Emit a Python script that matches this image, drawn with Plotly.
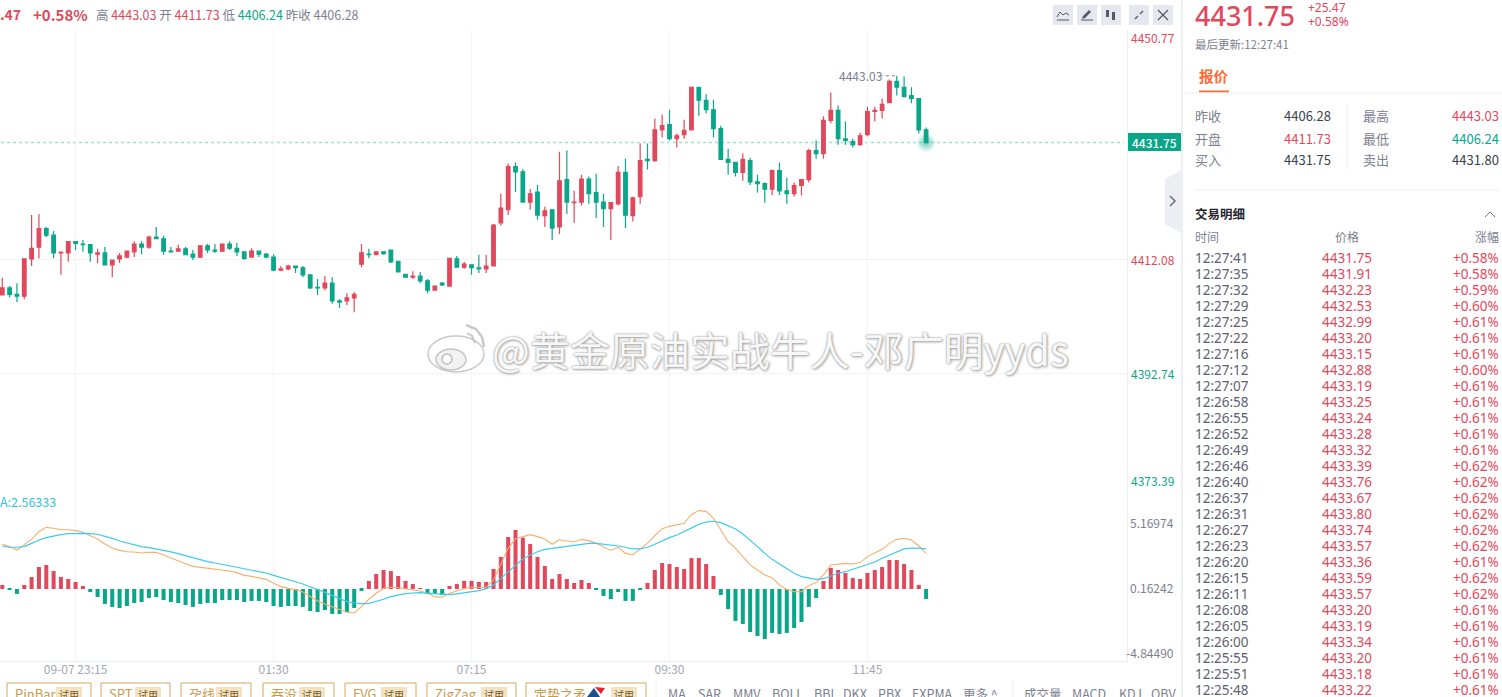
import plotly.graph_objects as go
from plotly.subplots import make_subplots

RED = '#e0485c'
GREEN = '#0aa68a'
GREY = '#7d8090'
DARK = '#3c3f4a'
FONT = 'Noto Sans CJK SC'
W, H = 1502, 697

# 5 minute candles
opens = [4406.0,4407.2,4406.1,4405.8,4412.1,4414.1,4417.2,4416.1,4413.1,4413.1,4415.0,4414.6,4414.5,4412.9,4413.1,4411.1,4412.1,4412.4,4413.3,4414.6,
         4414.1,4415.8,4415.5,4413.4,4413.4,4413.8,4412.9,4412.4,4414.3,4413.6,4413.4,4414.6,4413.9,4413.3,4412.4,4413.4,4412.9,4412.4,4410.2,4410.4,
         4410.9,4410.6,4409.4,4407.3,4407.2,4408.0,4405.0,4405.0,4405.5,4411.2,4412.9,4412.8,4413.3,4413.6,4411.7,4409.5,4409.0,4409.2,4408.4,4406.8,
         4408.0,4407.5,4412.1,4410.7,4411.1,4410.6,4410.4,4410.9,4418.2,4420.4,4427.7,4426.8,4421.7,4423.4,4419.4,4420.4,4417.5,4425.5,4421.6,4421.7,
         4425.6,4423.3,4421.7,4420.6,4421.4,4426.7,4419.4,4422.6,4428.9,4428.7,4433.9,4434.8,4432.4,4433.1,4433.9,4441.1,4438.9,4437.3,4434.1,4428.9,
         4428.4,4426.7,4428.7,4425.1,4424.8,4423.9,4427.0,4423.6,4423.1,4424.5,4425.5,4430.4,4429.9,4435.5,4437.2,4432.4,4431.9,4431.4,4433.1,4437.0,
         4437.2,4438.5,4442.1,4441.1,4439.7,4439.2,4433.9]
highs = [4408.9,4407.5,4408.0,4412.2,4419.5,4419.7,4417.5,4416.8,4413.4,4415.0,4415.1,4415.3,4414.6,4413.8,4414.1,4411.9,4413.1,4413.4,4415.1,4415.1,
         4416.0,4417.5,4416.0,4414.1,4414.5,4414.1,4413.6,4414.3,4414.6,4414.6,4414.6,4415.1,4414.8,4413.3,4413.9,4413.4,4413.1,4412.9,4410.9,4411.1,
         4410.9,4410.9,4409.4,4408.7,4409.2,4409.0,4405.3,4406.3,4406.5,4414.6,4413.8,4413.4,4413.3,4413.6,4411.7,4409.5,4410.0,4409.9,4408.7,4407.5,
         4408.2,4412.2,4412.6,4411.6,4411.1,4412.8,4412.8,4418.0,4423.1,4428.2,4428.4,4427.3,4423.9,4424.6,4420.9,4420.4,4430.2,4430.4,4423.6,4426.3,
         4426.0,4426.5,4423.1,4421.6,4427.8,4429.0,4422.6,4431.6,4431.6,4435.8,4436.5,4437.3,4433.3,4435.6,4441.1,4441.1,4439.9,4439.0,4434.6,4430.7,
         4428.4,4429.9,4429.2,4426.3,4425.0,4427.2,4428.4,4425.8,4425.0,4425.6,4430.7,4432.1,4436.2,4440.2,4438.0,4435.3,4432.4,4433.4,4437.8,4437.8,
         4439.2,4442.4,4443.03,4442.9,4441.1,4439.2,4434.3]
lows = [4406.0,4405.6,4404.8,4405.3,4410.9,4412.2,4415.8,4412.2,4409.4,4411.6,4413.6,4413.3,4411.6,4411.4,4411.1,4409.0,4411.4,4412.2,4412.4,4412.9,
        4413.8,4415.5,4412.8,4413.3,4413.3,4412.8,4411.9,4412.2,4413.1,4413.1,4413.3,4413.6,4412.6,4411.9,4412.4,4412.4,4412.2,4410.0,4410.0,4410.2,
        4409.7,4409.0,4407.0,4406.0,4406.8,4404.5,4403.8,4404.3,4403.1,4410.7,4412.2,4412.8,4412.8,4411.4,4409.9,4409.0,4408.7,4408.0,4406.3,4406.8,
        4407.5,4407.5,4410.6,4410.4,4409.4,4409.7,4409.7,4410.9,4417.7,4419.5,4423.4,4421.6,4420.4,4418.7,4417.5,4415.3,4416.3,4419.7,4418.2,4421.1,
        4421.4,4419.0,4417.5,4415.3,4421.1,4417.3,4418.4,4421.4,4427.2,4428.5,4432.6,4432.1,4430.9,4432.4,4433.8,4436.3,4436.7,4432.6,4428.9,4426.3,
        4426.0,4425.3,4424.6,4423.3,4421.6,4422.9,4422.9,4421.4,4422.6,4422.8,4425.0,4429.0,4429.0,4435.0,4431.4,4431.4,4430.9,4431.2,4432.8,4435.3,
        4435.8,4438.4,4439.7,4439.5,4438.4,4433.3,4431.75]
closes = [4407.2,4406.1,4405.8,4412.1,4413.9,4417.2,4416.1,4413.1,4413.2,4415.0,4414.7,4414.5,4413.1,4413.1,4411.1,4411.9,4412.6,4413.4,4414.6,4414.1,
          4415.8,4415.5,4413.4,4413.3,4413.8,4412.8,4412.4,4414.3,4413.6,4413.4,4414.6,4413.9,4413.3,4412.2,4413.4,4412.9,4412.4,4410.2,4410.4,4410.9,
          4410.6,4409.4,4407.2,4407.2,4408.0,4405.0,4404.8,4405.5,4406.1,4413.1,4412.8,4413.3,4413.0,4411.6,4409.9,4409.0,4409.2,4408.4,4406.8,4407.5,
          4407.7,4412.2,4410.7,4411.2,4410.6,4410.4,4410.9,4417.8,4420.7,4427.7,4426.8,4421.7,4423.1,4419.5,4420.2,4417.3,4425.3,4421.7,4421.7,4425.6,
          4423.1,4421.7,4420.6,4421.6,4426.7,4419.5,4422.4,4428.7,4428.7,4433.9,4434.6,4432.4,4432.9,4433.8,4441.1,4438.9,4437.3,4434.1,4428.9,4428.4,
          4426.7,4428.9,4425.1,4424.8,4423.9,4427.0,4423.6,4423.1,4424.5,4425.5,4430.4,4429.9,4435.5,4437.2,4432.4,4432.1,4431.4,4432.9,4437.0,4437.2,
          4438.2,4442.1,4441.1,4439.5,4439.2,4433.9,4431.75]

# MACD panel
hist = [0.31,-0.05,-0.38,0.31,0.92,1.69,1.85,1.38,0.92,0.77,0.54,0.23,-0.23,-0.62,-1.15,-1.38,-1.46,-1.31,-1.08,-1.0,
        -0.69,-0.62,-0.85,-1.0,-1.08,-1.23,-1.38,-1.15,-1.08,-1.08,-0.85,-0.85,-0.85,-1.0,-0.92,-0.92,-1.0,-1.31,-1.38,-1.31,
        -1.31,-1.38,-1.69,-1.77,-1.62,-1.92,-1.92,-1.77,-1.46,-0.15,0.62,1.15,1.46,1.38,1.0,0.62,0.38,0.05,-0.31,-0.38,
        -0.46,0.23,0.38,0.62,0.62,0.54,0.54,1.54,2.46,4.0,4.54,3.95,3.46,2.46,1.77,0.77,1.15,0.77,0.46,0.69,
        0.46,-0.05,-0.54,-0.77,-0.23,-0.92,-0.92,-0.05,0.46,1.46,2.0,1.92,1.69,1.54,2.38,2.38,1.92,1.0,-0.46,-1.54,
        -2.46,-2.69,-3.31,-3.62,-3.85,-3.38,-3.46,-3.38,-3.0,-2.54,-1.38,-0.69,0.62,1.62,1.46,1.23,0.85,0.77,1.23,1.46,
        1.69,2.23,2.23,1.92,1.46,0.31,-0.77]
dif = [3.44,3.26,3.0,3.38,3.82,4.41,4.74,4.67,4.56,4.56,4.49,4.36,4.13,3.85,3.46,3.15,2.97,2.87,2.85,2.77,
       2.82,2.82,2.62,2.38,2.18,1.95,1.74,1.67,1.56,1.49,1.46,1.38,1.26,1.05,0.97,0.87,0.74,0.44,0.18,0.05,
       -0.05,-0.23,-0.59,-0.92,-1.15,-1.36,-1.62,-1.79,-1.85,-1.36,-0.79,-0.33,0.05,0.13,0.10,0.0,-0.05,-0.15,-0.33,-0.59,
       -0.64,-0.33,-0.15,0.03,0.13,0.13,0.13,0.69,1.97,3.13,3.87,4.03,4.18,4.03,3.85,3.44,3.79,3.69,3.62,3.82,
       3.72,3.51,3.21,2.97,3.21,2.74,2.64,3.05,3.51,4.10,4.64,4.82,4.92,5.05,5.74,6.03,5.97,5.44,4.54,3.64,
       3.13,2.49,1.85,1.46,1.08,0.87,0.31,-0.03,-0.21,-0.21,0.26,0.49,1.08,1.85,1.92,1.97,1.92,2.03,2.49,2.79,
       3.05,3.51,3.82,3.90,3.77,3.31,2.74]
dea = [3.31,3.21,3.21,3.26,3.51,3.77,3.95,4.08,4.18,4.26,4.28,4.28,4.26,4.21,4.05,3.90,3.69,3.56,3.38,3.26,
       3.18,3.08,2.97,2.85,2.72,2.56,2.38,2.23,2.10,2.0,1.90,1.79,1.69,1.56,1.44,1.33,1.23,1.05,0.90,0.74,
       0.56,0.38,0.18,-0.03,-0.26,-0.51,-0.77,-0.97,-1.08,-1.13,-1.10,-0.97,-0.79,-0.59,-0.46,-0.36,-0.31,-0.28,-0.33,-0.38,
       -0.44,-0.44,-0.38,-0.28,-0.21,-0.13,0.03,0.31,0.82,1.33,1.85,2.31,2.62,2.87,3.05,3.13,3.23,3.31,3.38,3.46,
       3.51,3.51,3.46,3.36,3.31,3.21,3.08,3.08,3.21,3.44,3.72,3.95,4.15,4.44,4.69,4.97,5.15,5.21,5.10,4.87,
       4.62,4.23,3.77,3.26,2.74,2.28,1.92,1.54,1.21,0.95,0.82,0.74,0.79,1.0,1.21,1.33,1.51,1.67,1.87,2.08,
       2.36,2.62,2.87,3.08,3.15,3.15,3.08]

x_idx = list(range(len(closes)))
time_ticks = [10, 37, 64, 91, 118]
time_labels = ['09-07 23:15', '01:30', '07:15', '09:30', '11:45']
price_levels = [4450.77, 4412.08, 4392.74, 4373.39]
price_level_labels = ['4450.77', '4412.08', '4392.74', '4373.39']
last_price = 4431.75
day_high = 4443.03

# right hand tick list
tick_times = ['12:27:41','12:27:35','12:27:32','12:27:29','12:27:25','12:27:22','12:27:16','12:27:12','12:27:07','12:26:58',
              '12:26:55','12:26:52','12:26:49','12:26:46','12:26:40','12:26:37','12:26:31','12:26:27','12:26:23','12:26:20',
              '12:26:15','12:26:11','12:26:08','12:26:05','12:26:00','12:25:55','12:25:51','12:25:48']
tick_prices = ['4431.75','4431.91','4432.23','4432.53','4432.99','4433.20','4433.15','4432.88','4433.19','4433.25',
               '4433.24','4433.28','4433.32','4433.39','4433.76','4433.67','4433.80','4433.74','4433.57','4433.36',
               '4433.59','4433.57','4433.20','4433.19','4433.34','4433.20','4433.18','4433.22']
tick_changes = ['+0.58%','+0.58%','+0.59%','+0.60%','+0.61%','+0.61%','+0.61%','+0.60%','+0.61%','+0.61%',
                '+0.61%','+0.61%','+0.61%','+0.62%','+0.62%','+0.62%','+0.62%','+0.62%','+0.62%','+0.61%',
                '+0.62%','+0.62%','+0.61%','+0.61%','+0.61%','+0.61%','+0.61%','+0.61%']

indicator_buttons = ['PinBar', 'SPT', '孕线', '吞没', 'FVG', 'ZigZag', '定势之矛']
indicator_names = ['MA', 'SAR', 'MMV', 'BOLL', 'BBI', 'DKX', 'PBX', 'EXPMA', '更多 ^']
sub_names = ['成交量', 'MACD', 'KDJ', 'OBV']


def px(x):
    return x / W


def py(y):
    return 1 - y / H


def note(x, y, text, color=GREY, size=12, anchor='left', **kw):
    return dict(x=px(x), y=py(y), xref='paper', yref='paper', text=text, showarrow=False,
                xanchor=anchor, yanchor='middle', align=anchor, borderpad=0, borderwidth=0,
                font=dict(family=kw.pop('family', FONT), size=size, color=color, **kw.pop('font', {})), **kw)


def box(x0, y0, x1, y1, fill='rgba(0,0,0,0)', line=None, width=1):
    return dict(type='rect', xref='paper', yref='paper', x0=px(x0), x1=px(x1), y0=py(y0), y1=py(y1),
                fillcolor=fill, line=dict(color=line, width=width if line else 0), layer='below')


def seg(x0, y0, x1, y1, color='#eceef2', width=1, dash='solid'):
    return dict(type='line', xref='paper', yref='paper', x0=px(x0), x1=px(x1), y0=py(y0), y1=py(y1),
                line=dict(color=color, width=width, dash=dash), layer='above')


def poly(points, fill='rgba(0,0,0,0)', line=None, width=1, close=False):
    path = 'M ' + ' L '.join(f'{px(a):.5f},{py(b):.5f}' for a, b in points) + (' Z' if close else '')
    return dict(type='path', xref='paper', yref='paper', path=path, fillcolor=fill,
                line=dict(color=line, width=width if line else 0), layer='above')


def oval(x0, y0, x1, y1, fill='rgba(0,0,0,0)', line=None, width=1):
    return dict(type='circle', xref='paper', yref='paper', x0=px(x0), x1=px(x1), y0=py(y0), y1=py(y1),
                fillcolor=fill, line=dict(color=line, width=width if line else 0), layer='above')


fig = make_subplots(rows=2, cols=1, shared_xaxes=True)
fig.add_trace(go.Candlestick(x=x_idx, open=opens, high=highs, low=lows, close=closes,
                             increasing=dict(line=dict(color=RED, width=1.2), fillcolor=RED),
                             decreasing=dict(line=dict(color=GREEN, width=1.2), fillcolor=GREEN),
                             showlegend=False), row=1, col=1)
# glow on the last candle
fig.add_trace(go.Scatter(x=[x_idx[-1]], y=[last_price], mode='markers',
                         marker=dict(size=[20], color='rgba(10,166,138,0)', line=dict(width=0),
                                     gradient=dict(type='radial', color='rgba(10,166,138,0.85)')),
                         showlegend=False), row=1, col=1)
fig.add_trace(go.Bar(x=x_idx, y=hist, marker=dict(color=[RED if v > 0 else GREEN for v in hist], line=dict(width=0)),
                     showlegend=False), row=2, col=1)
fig.add_trace(go.Scatter(x=x_idx, y=dif, mode='lines', line=dict(color='#f7ad6c', width=1.1), showlegend=False), row=2, col=1)
fig.add_trace(go.Scatter(x=x_idx, y=dea, mode='lines', line=dict(color='#3ccbe8', width=1.2), showlegend=False), row=2, col=1)

annotations = []
shapes = []

# header of the chart
annotations.append(note(0, 14.5, '.47', RED, 14, font=dict(weight=700)))
annotations.append(note(33, 14.5, '+0.58%', RED, 15, font=dict(weight=700)))
annotations.append(note(96, 15, f"高 <span style='color:{RED}'>4443.03</span> 开 <span style='color:{RED}'>4411.73</span> "
                                f"低 <span style='color:{GREEN}'>4406.24</span> 昨收 4406.28", GREY, 12.5))

# price axis labels
for val, lab, yy in zip(price_levels, price_level_labels, [37, 259, 373, 480]):
    annotations.append(note(1131, yy, lab, RED if val > 4406.28 else GREEN, 12))
shapes.append(box(1127, 133, 1181, 151, GREEN))
annotations.append(note(1154, 142, '4431.75', 'white', 12, anchor='center', font=dict(weight=500)))
shapes.append(dict(type='line', xref='x', yref='y', x0=-1, x1=153, y0=last_price, y1=last_price,
                   line=dict(color='#9fe2d2', width=1.5, dash='dot'), layer='below'))
annotations.append(note(882, 76, '4443.03', GREY, 12, anchor='right'))
shapes.append(dict(type='line', xref='x', yref='y', x0=119.7, x1=122, y0=day_high, y1=day_high,
                   line=dict(color=GREY, width=1, dash='dot')))

# macd labels
annotations.append(note(0, 501, 'A:2.56333', '#2fc4e2', 12.5))
for yy, xx, lab in [(522, 1130, '5.16974'), (587, 1130, '0.16242'), (652, 1126, '-4.84490')]:
    annotations.append(note(xx, yy, lab, GREY, 12))

# watermark
annotations.append(note(492, 349, '@黄金原油实战牛人-邓广明yyds', '#f7f7f7', 40,
                        font=dict(shadow='0 0 2px #888, 1px 1px 3px #aaa')))
shapes.append(oval(428, 336, 484, 372, 'rgba(255,255,255,0.9)', '#c9c9c9', 1.5))
shapes.append(oval(436, 349, 466, 370, '#f2f2f2', '#c4c4c4', 1.5))
shapes.append(oval(442, 354, 452, 364, 'white', '#bdbdbd', 1.5))
shapes.append(poly([(466, 325), (476, 329), (482, 337), (484, 347)], line='#c9c9c9', width=2.5))
shapes.append(poly([(467, 333), (472, 336), (475, 343)], line='#c9c9c9', width=2))

# tool buttons, top right
for bx in [1053, 1077, 1101, 1129, 1153]:
    shapes.append(box(bx, 5, bx + 20, 25, '#e6e8ef'))
shapes.append(poly([(1057, 17), (1060, 12), (1063, 15), (1066, 13), (1069, 15)], line='#555b6b'))
shapes.append(seg(1057, 20, 1069, 20, '#555b6b'))
shapes.append(poly([(1082, 19), (1083, 16), (1089, 10), (1091, 12), (1085, 18)], '#555b6b'))
shapes.append(seg(1081, 20, 1093, 20, '#555b6b'))
shapes.append(box(1106, 10, 1109, 17, '#555b6b'))
shapes.append(box(1112, 12, 1115, 20, '#555b6b'))
shapes.append(seg(1135, 19, 1138, 16, '#555b6b', 1.5))
shapes.append(seg(1140, 14, 1143, 11, '#555b6b', 1.5))
shapes.append(seg(1158, 10, 1168, 20, '#555b6b', 1.2))
shapes.append(seg(1168, 10, 1158, 20, '#555b6b', 1.2))

# side panel
shapes.append(seg(1182, 0, 1182, 697, '#e6e8ee', 1.5))
shapes.append(poly([(1181, 170), (1165, 179), (1165, 224), (1181, 233)], '#eceef3', close=True))
shapes.append(poly([(1170, 196), (1175, 201), (1170, 206)], line='#6b7080', width=1.5))
annotations.append(note(1195, 16, '4431.75', RED, 27, font=dict(weight=500), family='Noto Sans'))
annotations.append(note(1308, 8, '+25.47', RED, 12, family='Noto Sans'))
annotations.append(note(1308, 21, '+0.58%', RED, 12, family='Noto Sans'))
annotations.append(note(1195, 44, '最后更新:12:27:41', GREY, 11.5))
annotations.append(note(1199, 76, '报价', '#ff6a33', 14.5, font=dict(weight=700)))
shapes.append(seg(1199, 91.5, 1229, 91.5, '#ff6a33', 2))
shapes.append(seg(1184, 93, 1502, 93))
for yy, lab, val, col in [(116, '昨收', '4406.28', DARK), (138, '开盘', '4411.73', RED), (160, '买入', '4431.75', DARK)]:
    annotations.append(note(1195, yy, lab, GREY, 13))
    annotations.append(note(1331, yy, val, col, 13, anchor='right'))
for yy, lab, val, col in [(116, '最高', '4443.03', RED), (138, '最低', '4406.24', GREEN), (160, '卖出', '4431.80', DARK)]:
    annotations.append(note(1363, yy, lab, GREY, 13))
    annotations.append(note(1499, yy, val, col, 13, anchor='right'))
shapes.append(seg(1347, 104, 1347, 170))
shapes.append(seg(1195, 190, 1500, 190))
annotations.append(note(1195, 214, '交易明细', '#23252e', 12.5, font=dict(weight=700)))
shapes.append(poly([(1485, 217), (1490, 212), (1495, 217)], line='#6b7080'))
annotations.append(note(1195, 236, '时间', GREY, 12))
annotations.append(note(1347, 236, '价格', GREY, 12, anchor='center'))
annotations.append(note(1499, 236, '涨幅', GREY, 12, anchor='right'))
for n, (tt, pp, cc) in enumerate(zip(tick_times, tick_prices, tick_changes)):
    yy = 258 + 16 * n
    annotations.append(note(1195, yy, tt, '#5d6070', 13.5, family='Noto Sans'))
    annotations.append(note(1347, yy, pp, RED, 13.5, anchor='center', family='Noto Sans'))
    annotations.append(note(1499, yy, cc, RED, 13.5, anchor='right', family='Noto Sans'))

# indicator bar along the bottom
button_edges = [(7, 91), (101, 170), (181, 251), (263, 334), (345, 416), (427, 516), (526, 646)]
for (x0, x1), name in zip(button_edges, indicator_buttons):
    shapes.append(box(x0, 683, x1, 702, 'white', '#d4a65c'))
    shapes.append(box(x1 - 35, 687, x1 - 9, 702, '#f3e3c3'))
    annotations.append(note(x0 + 8, 693, name, '#c99a4e', 13))
    annotations.append(note(x1 - 22, 694, '试用', '#7a5a22', 10, anchor='center'))
shapes.append(poly([(587, 697), (594, 688), (600, 697)], '#1f4e8c', close=True))
shapes.append(poly([(595, 687), (605, 688), (601, 694)], '#e8212b', close=True))
for name, xc in zip(indicator_names, [677, 709, 747, 787, 824, 855, 889, 932, 981]):
    annotations.append(note(xc, 693, name, GREY, 12.5, anchor='center'))
for name, xc in zip(sub_names, [1043, 1089, 1130, 1163]):
    annotations.append(note(xc, 693, name, GREY, 12.5, anchor='center'))
shapes.append(seg(656, 680, 656, 697))
shapes.append(seg(1013, 680, 1013, 697))

fig.update_layout(
    width=W, height=H, margin=dict(l=0, r=0, t=0, b=0), paper_bgcolor='white', plot_bgcolor='white',
    showlegend=False, bargap=0.45, boxgap=0.3, hovermode=False, annotations=annotations, shapes=shapes,
    xaxis=dict(domain=[0, 1127 / W], range=[-0.31, 153.4], rangeslider=dict(visible=False), tickvals=time_ticks,
               showticklabels=False, gridcolor='#f3f4f6', showgrid=True, zeroline=False, ticks=''),
    xaxis2=dict(domain=[0, 1127 / W], range=[-0.31, 153.4], tickvals=time_ticks, ticktext=time_labels,
                tickfont=dict(family=FONT, size=12, color='#a3a6b4'), gridcolor='#f3f4f6', showgrid=True,
                zeroline=False, ticks='', showline=True, linecolor='#eceef2', ticklabelstandoff=-2),
    yaxis=dict(domain=[py(488), py(30)], range=[price_levels[-1], price_levels[0]], side='right', tickvals=price_levels,
               showticklabels=False, gridcolor='#f3f4f6', showline=True, linecolor='#eceef2', zeroline=False, ticks=''),
    yaxis2=dict(domain=[py(661), py(488)], range=[-5.54, 7.77], side='right', showticklabels=False, showgrid=False,
                showline=True, linecolor='#eceef2', zeroline=False, ticks=''),
)

fig.write_html('out.html', config=dict(displayModeBar=False),
               post_script="document.body.style.margin='0';document.body.style.overflow='hidden';")
